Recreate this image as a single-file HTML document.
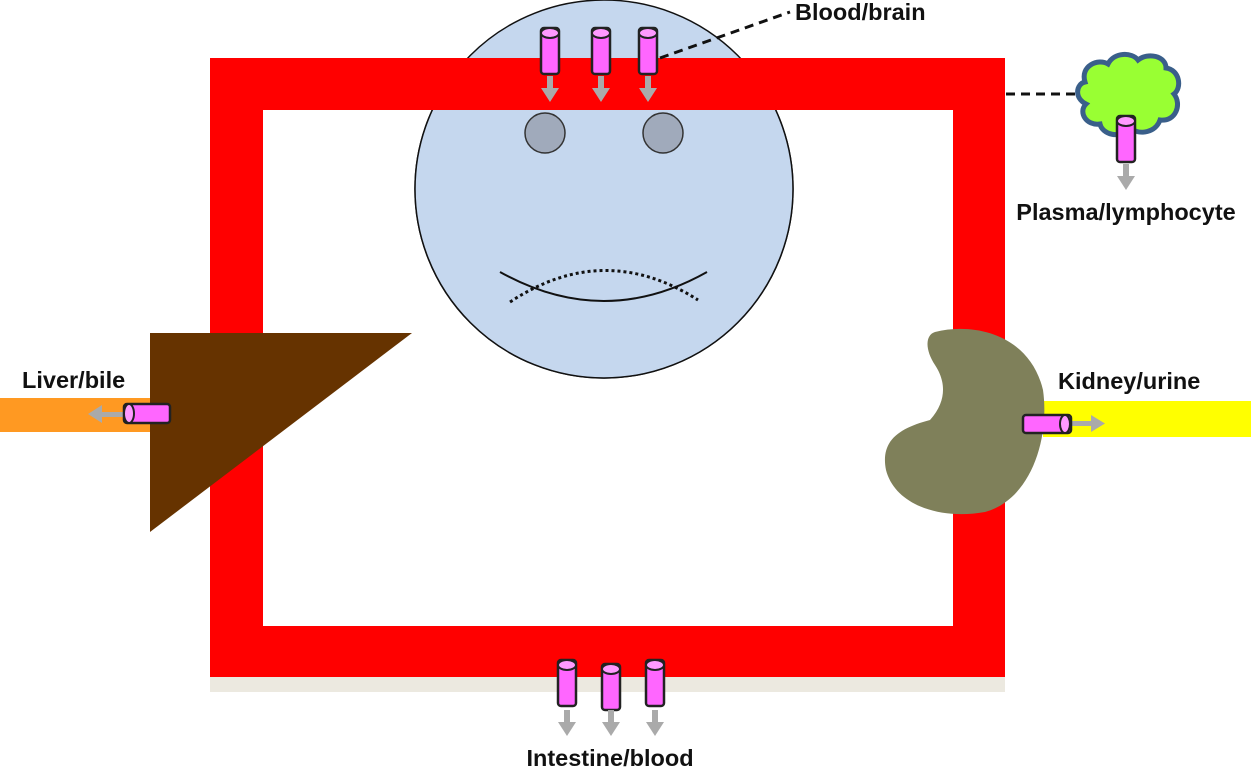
<!DOCTYPE html>
<html><head><meta charset="utf-8"><style>
html,body{margin:0;padding:0;background:#fff;}
svg{display:block;}
text{font-family:"Liberation Sans",Arial,sans-serif;font-weight:bold;font-size:23.5px;fill:#111;}
</style></head><body>
<svg width="1251" height="769" viewBox="0 0 1251 769">
<defs>
<g id="cylV">
<rect x="-9" y="0" width="18" height="46" fill="#ff66ff" stroke="#222" stroke-width="2.5" rx="3"/>
<ellipse cx="0" cy="5" rx="9" ry="5" fill="#ff99ff" stroke="#222" stroke-width="2"/>
</g>
<g id="arrD">
<rect x="-3" y="0" width="6" height="14" fill="#aaa"/>
<polygon points="-9,12 9,12 0,26" fill="#aaa"/>
</g>
</defs>
<circle cx="604" cy="189" r="189" fill="#c5d7ee" stroke="#111" stroke-width="1.5"/>
<rect x="210" y="677" width="795" height="15" fill="#ece9e0"/>
<path d="M210 58 H1005 V677 H210 Z M263 110 V626 H953 V110 Z" fill="#ff0000" fill-rule="evenodd"/>
<clipPath id="inner"><rect x="263" y="110" width="690" height="516"/></clipPath>
<circle cx="604" cy="189" r="189" fill="#c5d7ee" stroke="#111" stroke-width="1.5" clip-path="url(#inner)"/>
<circle cx="545" cy="133" r="20" fill="#a0aabb" stroke="#333" stroke-width="1.5"/>
<circle cx="663" cy="133" r="20" fill="#a0aabb" stroke="#333" stroke-width="1.5"/>
<path d="M500 272 Q604 330 707 272" fill="none" stroke="#111" stroke-width="2"/>
<path d="M510 302 Q604 240 698 300" fill="none" stroke="#111" stroke-width="3" stroke-dasharray="3,3"/>
<g transform="translate(550,28)"><use href="#cylV"/><g transform="translate(0,48)"><use href="#arrD"/></g></g>
<g transform="translate(601,28)"><use href="#cylV"/><g transform="translate(0,48)"><use href="#arrD"/></g></g>
<g transform="translate(648,28)"><use href="#cylV"/><g transform="translate(0,48)"><use href="#arrD"/></g></g>
<line x1="660" y1="58" x2="790" y2="12" stroke="#111" stroke-width="3" stroke-dasharray="9,6"/>
<text x="795" y="20">Blood/brain</text>
<rect x="0" y="398" width="152" height="34" fill="#ff9922"/>
<polygon points="150,333 412,333 150,532" fill="#663300"/>
<rect x="95" y="412" width="30" height="5" fill="#aaa"/>
<polygon points="88,414 102,405 102,423" fill="#aaa"/>
<rect x="124" y="404" width="46" height="19" rx="3" fill="#ff66ff" stroke="#222" stroke-width="2.5"/>
<ellipse cx="129" cy="413.5" rx="5" ry="9.5" fill="#ff99ff" stroke="#222" stroke-width="2"/>
<text x="22" y="388">Liver/bile</text>
<rect x="1043" y="401" width="208" height="36" fill="#ffff00"/>
<path d="M935 332 C975 322 1030 335 1043 390 C1050 440 1030 500 985 512 C940 520 895 505 886 470 C880 440 900 428 930 420 C948 400 945 380 935 365 C925 350 925 335 935 332 Z" fill="#7f805a"/>
<rect x="1068" y="421" width="26" height="5" fill="#aaa"/>
<polygon points="1105,423.5 1091,415 1091,432" fill="#aaa"/>
<rect x="1023" y="415" width="48" height="18" rx="3" fill="#ff66ff" stroke="#222" stroke-width="2.5"/>
<ellipse cx="1065" cy="424" rx="5" ry="9" fill="#ff99ff" stroke="#222" stroke-width="2"/>
<text x="1058" y="389">Kidney/urine</text>
<line x1="1006" y1="94" x2="1077" y2="94" stroke="#111" stroke-width="3" stroke-dasharray="9,6"/>
<path d="M1085 82 C1080 66 1098 58 1108 64 C1114 52 1132 52 1138 60 C1148 52 1166 56 1166 68 C1180 70 1182 88 1174 94 C1182 104 1176 122 1160 120 C1156 132 1140 136 1130 128 C1120 140 1102 134 1100 124 C1086 126 1078 112 1086 104 C1074 98 1076 84 1085 82 Z" fill="#99ff33" stroke="#3a5f8a" stroke-width="5"/>
<g transform="translate(1126,116)"><use href="#cylV"/><g transform="translate(0,48)"><use href="#arrD"/></g></g>
<text x="1126" y="220" text-anchor="middle">Plasma/lymphocyte</text>
<g transform="translate(567,660)"><use href="#cylV"/><g transform="translate(0,50)"><use href="#arrD"/></g></g>
<g transform="translate(611,664)"><use href="#cylV"/><g transform="translate(0,46)"><use href="#arrD"/></g></g>
<g transform="translate(655,660)"><use href="#cylV"/><g transform="translate(0,50)"><use href="#arrD"/></g></g>
<text x="610" y="766" text-anchor="middle">Intestine/blood</text>
</svg>
</body></html>
